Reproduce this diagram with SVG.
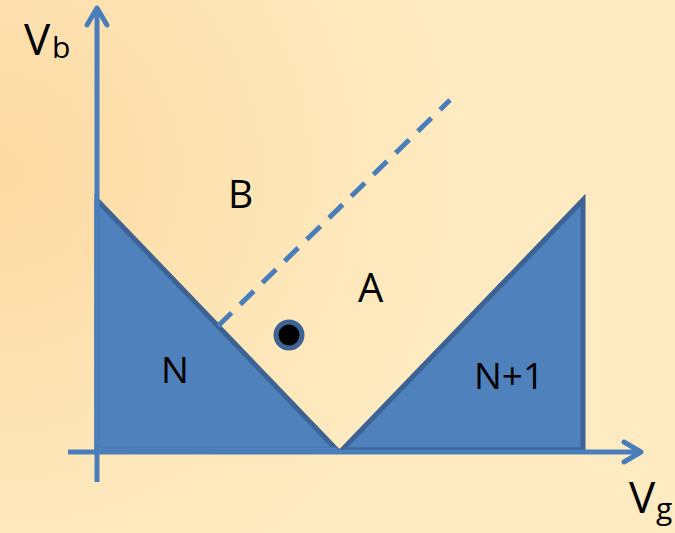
<svg xmlns="http://www.w3.org/2000/svg" width="675" height="533" viewBox="0 0 675 533">
<style>
.lbl{font-family:"Open Sans","Liberation Sans",sans-serif;fill:#000}
.region{fill:#4f81bd;stroke:#3d6394;stroke-width:5;stroke-linejoin:miter}
.axis{stroke:#4a7ebb;stroke-width:5;fill:none}
.head{stroke:#4a7ebb;stroke-width:5;fill:none;stroke-linecap:round;stroke-linejoin:round}
</style>
<defs>
<radialGradient id="bg" gradientUnits="userSpaceOnUse" cx="0" cy="170" r="480">
<stop offset="0" stop-color="#fcd9a2"/>
<stop offset="0.6" stop-color="#fee6b8"/>
<stop offset="1" stop-color="#feebc2"/>
</radialGradient>
</defs>
<rect width="675" height="533" fill="url(#bg)"/>
<g id="regionN">
<polygon class="region" points="97,200 337,450 97,450"/>
<path d="M97,200 V450 H337" fill="none" stroke="#4f81bd" stroke-width="5"/>
</g>
<g id="regionN1">
<polygon class="region" points="342,450 583,200 583,450"/>
</g>
<g id="connectors">
<line class="axis" x1="97" y1="482" x2="97" y2="10"/>
<polyline class="head" points="87,25 97,8 107,25"/>
<line class="axis" x1="68" y1="452" x2="640" y2="452"/>
<polyline class="head" points="624,442 641,452 624,462"/>
<line x1="218" y1="326" x2="450" y2="100" stroke="#4a7ebb" stroke-width="5" stroke-dasharray="19,12"/>
</g>
<g id="dot">
<circle cx="289" cy="335" r="13" fill="#000" stroke="#3d6394" stroke-width="5"/>
</g>
<g id="labels">
<text class="lbl" x="24" y="55" font-size="44">V</text>
<text class="lbl" x="52" y="58" font-size="30">b</text>
<text class="lbl" x="228" y="208" font-size="39">B</text>
<text class="lbl" x="358" y="302" font-size="40">A</text>
<text class="lbl" x="161" y="383" font-size="37">N</text>
<text class="lbl" x="474" y="389" font-size="37">N+1</text>
<text class="lbl" x="629" y="513" font-size="44">V</text>
<text class="lbl" x="656" y="519" font-size="30">g</text>
</g>
</svg>
